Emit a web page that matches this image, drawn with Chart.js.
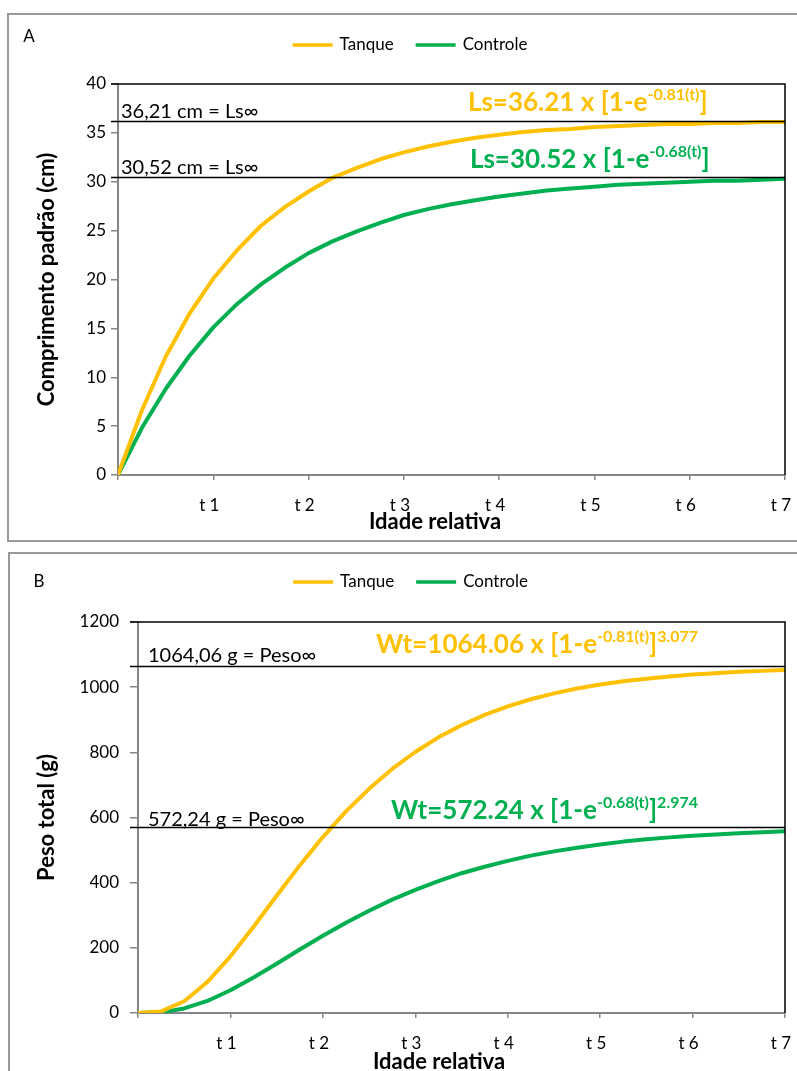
<!DOCTYPE html>
<html>
<head>
<meta charset="utf-8">
<title>Crescimento: Tanque x Controle</title>
<script src="https://cdn.jsdelivr.net/npm/chart.js@4.4.1/dist/chart.umd.min.js"></script>
<style>
  html, body { margin: 0; padding: 0; background: #fff; overflow: hidden; }
  body { width: 797px; height: 1071px; position: relative; }
  canvas { position: absolute; }
  #chartA { left: 8px; top: 14px; }
  #chartB { left: 9px; top: 553px; }
  .frame { position: absolute; border: 2px solid #9a9a9a; box-sizing: border-box; pointer-events: none; }
  #frameA { left: 7px; top: 13px; width: 812px; height: 529px; }
  #frameB { left: 8px; top: 552px; width: 812px; height: 540px; }
</style>
</head>
<body>
<canvas id="chartA" width="804" height="526"></canvas>
<canvas id="chartB" width="803" height="528"></canvas>
<div class="frame" id="frameA"></div>
<div class="frame" id="frameB"></div>

<script>
// ---------- Data ----------
const ages = [0, 0.25, 0.5, 0.75, 1, 1.25, 1.5, 1.75, 2, 2.25, 2.5, 2.75, 3, 3.25, 3.5,
              3.75, 4, 4.25, 4.5, 4.75, 5, 5.25, 5.5, 5.75, 6, 6.25, 6.5, 6.75, 7];
const ageLabels = ['', 't 1', 't 2', 't 3', 't 4', 't 5', 't 6', 't 7'];
const seriesNames = ['Tanque', 'Controle'];

// standard length (cm)
const lsTanque   = [0, 6.6, 12.1, 16.5, 20.1, 23.0, 25.5, 27.4, 29.0, 30.4, 31.4, 32.3, 33.0, 33.6, 34.1,
                    34.5, 34.8, 35.1, 35.3, 35.4, 35.6, 35.7, 35.8, 35.9, 35.9, 36.0, 36.0, 36.1, 36.1];
const lsControle = [0, 4.8, 8.8, 12.2, 15.1, 17.5, 19.5, 21.2, 22.7, 23.9, 24.9, 25.8, 26.6, 27.2, 27.7,
                    28.1, 28.5, 28.8, 29.1, 29.3, 29.5, 29.7, 29.8, 29.9, 30.0, 30.1, 30.1, 30.2, 30.3];
const lsInfinity = [36.21, 30.52];

// total weight (g)
const wtTanque   = [0, 5, 36, 95, 174, 265, 360, 453, 540, 619, 688, 749, 801, 846, 883,
                    915, 941, 963, 981, 996, 1008, 1018, 1026, 1033, 1039, 1043, 1047, 1050, 1053];
const wtControle = [0, 2, 14, 37, 70, 109, 151, 195, 237, 277, 314, 348, 378, 405, 429,
                    449, 467, 483, 496, 507, 517, 526, 533, 539, 544, 548, 552, 555, 558];
const wtInfinity = [1064.06, 572.24];

const ORANGE = '#FFC000';
const GREEN  = '#00B050';
const AXIS   = '#868686';
const FONT   = 'Lato, "Open Sans", sans-serif';

Chart.defaults.font.family = FONT;
Chart.defaults.color = '#000';

const points = (ys) => ages.map((t, i) => ({ x: t, y: ys[i] }));

// ---------- Decorations: frame, asymptotes, equations, legend ----------
function drawEquation(ctx, x, y, parts, color, size) {
  ctx.fillStyle = color;
  ctx.textBaseline = 'alphabetic';
  ctx.textAlign = 'left';
  parts.forEach(([text, sup]) => {
    ctx.font = `bold ${sup ? Math.round(size * 0.62) : size}px ${FONT}`;
    ctx.fillText(text, x, sup ? y - size * 0.42 : y);
    x += ctx.measureText(text).width;
  });
}

function decor(cfg) {
  return {
    id: 'decor',
    afterDatasetsDraw(chart) {
      const { ctx, chartArea: { left, right, top, bottom } } = chart;
      const ys = chart.scales.y;
      ctx.save();
      ctx.strokeStyle = '#000';
      ctx.lineWidth = 1.5;
      ctx.beginPath();
      ctx.moveTo(left - cfg.tick, top);
      ctx.lineTo(right, top);
      ctx.lineTo(right, bottom);
      ctx.stroke();

      cfg.asymptotes.forEach((a) => {
        const py = Math.round(ys.getPixelForValue(a.value)) + 0.5;
        ctx.beginPath();
        ctx.moveTo(left - cfg.tick, py);
        ctx.lineTo(right, py);
        ctx.stroke();
        ctx.fillStyle = '#000';
        ctx.font = `20px ${FONT}`;
        ctx.textAlign = 'left';
        ctx.textBaseline = 'alphabetic';
        ctx.fillText(a.label, cfg.labelX, py + a.dy);
      });
      ctx.restore();
    },
    afterDraw(chart) {
      const { ctx, width } = chart;
      ctx.save();
      cfg.equations.forEach((e) => drawEquation(ctx, e.x, e.y, e.parts, e.color, 26));

      // panel letter
      ctx.fillStyle = '#000';
      ctx.font = `17px ${FONT}`;
      ctx.textAlign = 'center';
      ctx.textBaseline = 'middle';
      ctx.fillText(cfg.letter, cfg.letterPos[0], cfg.letterPos[1]);

      // x axis title
      ctx.font = `bold 22px ${FONT}`;
      ctx.fillText(cfg.xTitle, cfg.xTitlePos[0], cfg.xTitlePos[1]);

      // legend, centred on the canvas
      ctx.font = `17px ${FONT}`;
      const sample = 40, gapText = 7, gapItem = 22;
      const sets = chart.data.datasets;
      const widths = sets.map((d) => ctx.measureText(d.label).width);
      const total = widths.reduce((s, w) => s + w + sample + gapText, 0) + gapItem;
      let x = width / 2 - total / 2;
      sets.forEach((d, i) => {
        ctx.strokeStyle = d.borderColor;
        ctx.lineWidth = 3.5;
        ctx.beginPath();
        ctx.moveTo(x, cfg.legendY);
        ctx.lineTo(x + sample, cfg.legendY);
        ctx.stroke();
        ctx.fillStyle = '#000';
        ctx.textAlign = 'left';
        ctx.fillText(d.label, x + sample + gapText, cfg.legendY);
        x += sample + gapText + widths[i] + gapItem;
      });
      ctx.restore();
    },
  };
}

function growthChart(id, series, yOpts, cfg) {
  const colors = [ORANGE, GREEN];
  return new Chart(document.getElementById(id), {
    type: 'line',
    data: {
      datasets: series.map((s, i) => ({
        label: seriesNames[i],
        data: points(s),
        borderColor: colors[i],
        backgroundColor: colors[i],
        borderWidth: 4,
        pointRadius: 0,
        tension: 0,
        borderJoinStyle: 'round',
        borderCapStyle: 'round',
      })),
    },
    options: {
      responsive: false,
      animation: false,
      layout: { padding: { top: cfg.padTop, right: cfg.padRight, left: 0, bottom: 0 } },
      plugins: { legend: { display: false }, tooltip: { enabled: false } },
      scales: {
        x: {
          type: 'linear', min: 0, max: 7,
          afterFit: (s) => { s.height = cfg.xHeight; },
          ticks: {
            stepSize: 1, autoSkip: false, padding: 15, labelOffset: -4,
            font: { size: 17 }, color: '#000',
            callback: (v) => ageLabels[v],
          },
          grid: { drawOnChartArea: false, tickLength: 5, color: AXIS, lineWidth: 1.5 },
          border: { color: AXIS, width: 2 },
        },
        y: {
          min: 0, max: yOpts.max,
          afterFit: (s) => { s.width = cfg.yWidth; },
          ticks: {
            stepSize: yOpts.step, padding: cfg.yPad, font: { size: 17 }, color: '#000',
            callback: (v) => String(v),
          },
          grid: { drawOnChartArea: false, tickLength: cfg.tick, color: AXIS, lineWidth: 1.5 },
          border: { color: AXIS, width: 2 },
          title: {
            display: true, text: yOpts.title, color: '#000',
            font: { size: 22, weight: 'bold' }, padding: { top: cfg.yTitlePad },
          },
        },
      },
    },
    plugins: [decor(cfg)],
  });
}

// ---------- A: standard length ----------
growthChart('chartA', [lsTanque, lsControle],
  { max: 40, step: 5, title: 'Comprimento padrão (cm)' },
  {
    padTop: 70, padRight: 27, xHeight: 65, yWidth: 110, yPad: 5, tick: 7, yTitlePad: 26,
    letter: 'A', letterPos: [21, 23], legendY: 31,
    xTitle: 'Idade relativa', xTitlePos: [427, 508],
    labelX: 113,
    asymptotes: [
      { value: lsInfinity[0], label: '36,21 cm = Ls∞', dy: -4 },
      { value: lsInfinity[1], label: '30,52 cm = Ls∞', dy: -4 },
    ],
    equations: [
      { x: 460, y: 97, color: ORANGE, parts: [['Ls=36.21 x [1-e', 0], ['-0.81(t)', 1], [']', 0]] },
      { x: 462, y: 154, color: GREEN, parts: [['Ls=30.52 x [1-e', 0], ['-0.68(t)', 1], [']', 0]] },
    ],
  });

// ---------- B: total weight ----------
growthChart('chartB', [wtTanque, wtControle],
  { max: 1200, step: 200, title: 'Peso total (g)' },
  {
    padTop: 69, padRight: 27, xHeight: 68, yWidth: 129, yPad: 11, tick: 8, yTitlePad: 25,
    letter: 'B', letterPos: [30, 29], legendY: 29,
    xTitle: 'Idade relativa', xTitlePos: [430, 509],
    labelX: 139,
    asymptotes: [
      { value: wtInfinity[0], label: '1064,06 g = Peso∞', dy: -5 },
      { value: wtInfinity[1], label: '572,24 g = Peso∞', dy: -2 },
    ],
    equations: [
      { x: 367, y: 100, color: ORANGE, parts: [['Wt=1064.06 x [1-e', 0], ['-0.81(t)', 1], [']', 0], ['3.077', 1]] },
      { x: 382, y: 266, color: GREEN, parts: [['Wt=572.24 x [1-e', 0], ['-0.68(t)', 1], [']', 0], ['2.974', 1]] },
    ],
  });
</script>
</body>
</html>
